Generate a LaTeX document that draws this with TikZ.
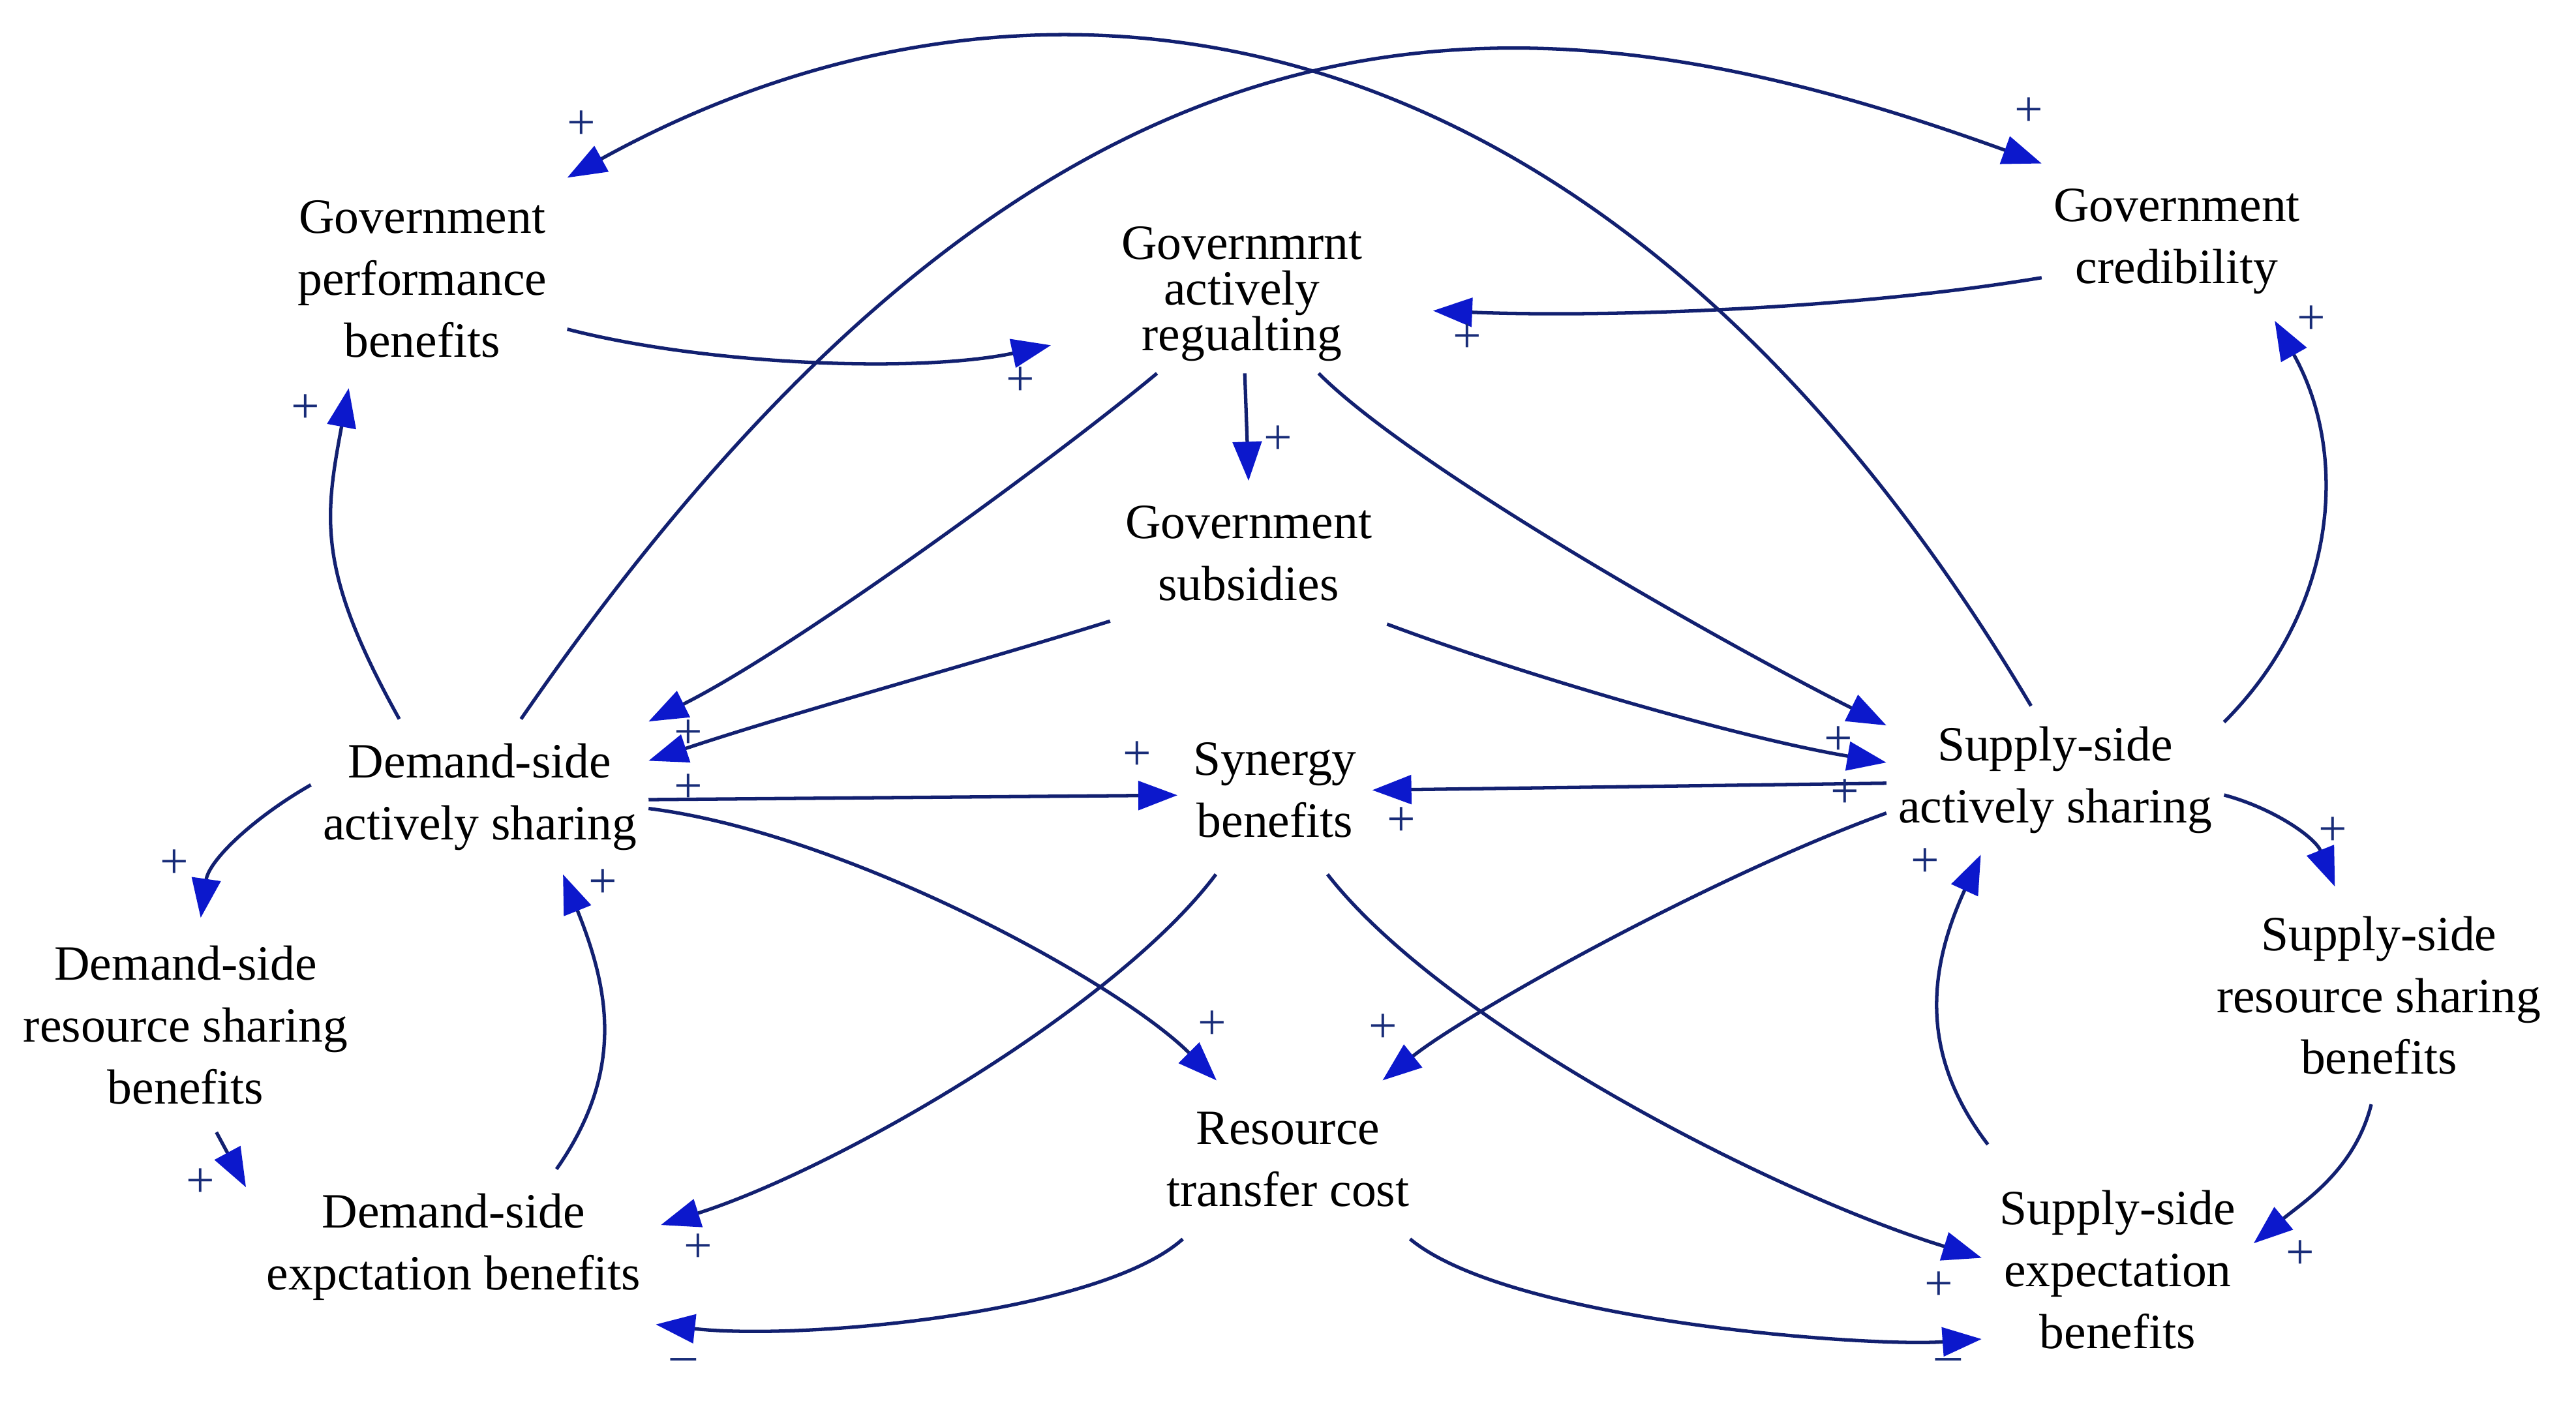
\documentclass[tikz,border=0pt]{standalone}
\usepackage{fontspec}
\setmainfont{Liberation Serif}
\usetikzlibrary{arrows.meta}
\definecolor{linkblue}{RGB}{18,32,112}
\definecolor{tipblue}{RGB}{12,24,204}
\definecolor{signblue}{RGB}{24,44,120}

\begin{document}
\begin{tikzpicture}[x=0.02518cm,y=-0.02518cm,
  var/.style={align=center, inner sep=0pt, font=\fontsize{21.5}{27}\selectfont},
  box/.style 2 args={minimum width=#1*0.02518cm, minimum height=#2*0.02518cm},
  link/.style={draw=linkblue, line width=1.5pt, -{Triangle[length=6mm,width=4.4mm,color=tipblue]}},
  sign/.style={text=signblue, inner sep=0pt, font=\fontsize{22}{22}\selectfont}]
\path[use as bounding box, fill=white] (0,0) rectangle (1568,852.5);

\node[var, box={176}{132}] (gpb) at (257,170) {Government\\performance\\benefits};
\node[var, box={232}{96}, font=\fontsize{21.5}{20}\selectfont] (gar) at (756,179) {Governmrnt\\actively\\regualting};
\node[var, box={164}{96}] (gc) at (1325,147) {Government\\credibility};
\node[var, box={168}{88}] (gs) at (760,337) {Government\\subsidies};
\node[var, box={205}{94}] (dsa) at (292,485) {Demand-side\\actively sharing};
\node[var, box={118}{102}] (sb) at (776,481) {Synergy\\benefits};
\node[var, box={205}{90}] (ssa) at (1251,475) {Supply-side\\actively sharing};
\node[var, box={198}{130}] (dsrb) at (113,624) {Demand-side\\resource sharing\\benefits};
\node[var, box={200}{132}] (ssrb) at (1448,606) {Supply-side\\resource sharing\\benefits};
\node[var, box={148}{96}] (rtc) at (784,706) {Resource\\transfer cost};
\node[var, box={252}{94}] (dseb) at (276,759) {Demand-side\\expctation benefits};
\node[var, box={165}{152}] (sseb) at (1289,773) {Supply-side\\expectation\\benefits};

\draw[link] (dsa.136) .. controls +(-50,-90) and +(-15,80) .. (gpb.236);
\draw[link] (gpb.-19) .. controls +(85,22) and +(-80,17) .. (gar.195);
\draw[link] (dsa.62) .. controls +(324,-470) and +(-318,-115) .. (gc.150);
\draw[link] (ssa.108) .. controls +(-266,-448) and +(275,-152) .. (gpb.35);
\draw[link] (gc.195) .. controls +(-120,20) and +(100,4) .. (gar.-5);
\draw[link] (ssa.19) .. controls +(70,-70) and +(45,80) .. (gc.321);
\draw[link] (gar.272) -- (gs.north);
\draw[link] (gar.223) .. controls +(-60,50) and +(90,-45) .. (dsa.24);
\draw[link] (gs.206) .. controls +(-80,25) and +(90,-30) .. (dsa.12);
\draw[link] (dsa.-1) -- (sb.183);
\draw[link] (ssa.181) -- (sb.0);
\draw[link] (gar.314) .. controls +(60,60) and +(-90,-45) .. (ssa.162);
\draw[link] (gs.333) .. controls +(80,30) and +(-90,-15) .. (ssa.174);
\draw[link] (dsa.-4) .. controls +(120,15) and +(-60,-60) .. (rtc.132);
\draw[link] (ssa.191) .. controls +(-110,40) and +(50,-40) .. (rtc.40);
\draw[link] (sb.235) .. controls +(-60,80) and +(110,-35) .. (dseb.6);
\draw[link] (sb.302) .. controls +(70,90) and +(-130,-40) .. (sseb.175);
\draw[link] (rtc.217) .. controls +(-50,45) and +(90,10) .. (dseb.339);
\draw[link] (rtc.327) .. controls +(60,50) and +(-70,5) .. (sseb.207);
\draw[link] (dsa.176) .. controls +(-35,20) and +(5,-35) .. (dsrb.82);
\draw[link] (dsrb.286) -- (dseb.164);
\draw[link] (dseb.37) .. controls +(42,-60) and +(28,70) .. (dsa.-43);
\draw[link] (ssa.355) .. controls +(30,8) and +(-12,-30) .. (ssrb.112);
\draw[link] (ssrb.266) .. controls +(-10,40) and +(30,-25) .. (sseb.11);
\draw[link] (sseb.136) .. controls +(-42,-55) and +(-32,70) .. (ssa.225);

\node[sign] (p1) at (186,249) {+};
\node[sign] (p2) at (621,232) {+};
\node[sign] (p3) at (1235,68) {+};
\node[sign] (p4) at (354,76) {+};
\node[sign] (p5) at (893,206) {+};
\node[sign] (p6) at (1407,195) {+};
\node[sign] (p7) at (778,268) {+};
\node[sign] (p8) at (419,447) {+};
\node[sign] (p9) at (419,480) {+};
\node[sign] (p10) at (692,460) {+};
\node[sign] (p11) at (853,500) {+};
\node[sign] (p12) at (1119,451) {+};
\node[sign] (p13) at (1123,483) {+};
\node[sign] (p14) at (738,624) {+};
\node[sign] (p15) at (842,626) {+};
\node[sign] (p16) at (425,760) {+};
\node[sign] (p17) at (1180,783) {+};
\node[sign] (p18) at (416,831) {–};
\node[sign] (p19) at (1186,831) {–};
\node[sign] (p20) at (106,526) {+};
\node[sign] (p21) at (122,720) {+};
\node[sign] (p22) at (367,538) {+};
\node[sign] (p23) at (1420,506) {+};
\node[sign] (p24) at (1400,764) {+};
\node[sign] (p25) at (1172,525) {+};
\end{tikzpicture}
\end{document}
